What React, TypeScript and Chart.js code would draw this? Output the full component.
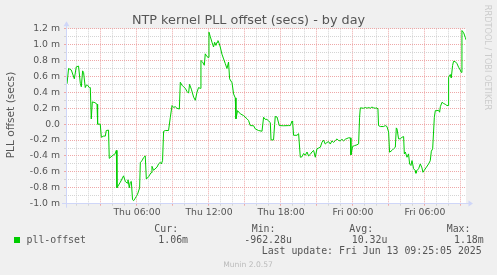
import React, { useEffect, useRef } from "react";
import { Chart, registerables } from "chart.js";

Chart.register(...registerables);

// time in hours since Thu 00:00, offset in milliseconds
const hours = [
  0.17, 0.3, 0.53, 0.78, 0.94, 1.13, 1.28, 1.36, 1.47, 1.55, 1.69, 1.78, 1.88, 2.03, 2.11, 2.19, 2.28, 2.5, 2.67, 2.72,
  2.94, 3.03, 3.22, 3.36, 3.44, 3.63, 3.69, 3.92, 4.19, 4.28, 4.33, 4.61, 4.88, 5.03, 5.17, 5.25, 5.36, 5.44, 5.53, 5.63,
  5.72, 5.86, 5.94, 6.05, 6.22, 6.28, 6.42, 6.55, 6.69, 6.78, 6.97, 7.17, 7.25, 7.38, 7.67, 7.8, 7.94, 8.03, 8.13, 8.22,
  8.36, 8.63, 8.78, 8.92, 9.05, 9.19, 9.33, 9.53, 9.61, 9.75, 9.88, 10.03, 10.17, 10.3, 10.38, 10.53, 10.72, 10.86, 11.0, 11.13,
  11.28, 11.33, 11.47, 11.61, 11.69, 11.83, 11.92, 12.0, 12.11, 12.25, 12.38, 12.47, 12.58, 12.67, 12.75, 12.86, 12.94, 13.08, 13.22, 13.36,
  13.5, 13.63, 13.72, 13.92, 14.05, 14.19, 14.25, 14.38, 14.61, 14.88, 15.17, 15.3, 15.44, 15.72, 15.86, 16.13, 16.42, 16.55, 16.69, 16.83,
  16.97, 17.11, 17.17, 17.38, 17.47, 17.52, 17.67, 17.86, 18.22, 18.63, 18.78, 18.92, 18.97, 19.05, 19.33, 19.47, 19.61, 19.75, 19.88, 20.03,
  20.17, 20.3, 20.44, 20.58, 20.72, 20.86, 21.0, 21.13, 21.28, 21.42, 21.55, 21.69, 21.83, 21.97, 22.11, 22.25, 22.38, 22.53, 22.67, 22.8,
  22.94, 23.08, 23.22, 23.36, 23.5, 23.63, 23.78, 23.83, 23.97, 24.13, 24.33, 24.47, 24.55, 24.61, 24.88, 25.03, 25.17, 25.3, 25.44, 25.58,
  25.72, 25.86, 26.0, 26.08, 26.13, 26.28, 26.55, 26.69, 26.83, 26.97, 27.05, 27.25, 27.38, 27.53, 27.61, 27.67, 27.8, 27.94, 28.08, 28.22,
  28.28, 28.36, 28.5, 28.63, 28.72, 28.83, 28.92, 29.05, 29.19, 29.25, 29.33, 29.47, 29.61, 29.75, 29.83, 29.94, 30.08, 30.3, 30.44, 30.53,
  30.64, 30.78, 30.86, 31.0, 31.13, 31.22, 31.28, 31.42, 31.55, 31.69, 31.83, 31.92, 31.97, 32.11, 32.19, 32.3, 32.38, 32.53, 32.67, 32.8,
  32.94, 33.03, 33.08, 33.22, 33.36, 33.42,
];

const offsetsMs = [
  0.507, 0.7, 0.68, 0.57, 0.72, 0.73, 0.51, 0.47, 0.67, 0.65, 0.46, 0.49, 0.49, 0.46, 0.46, 0.065, 0.28, 0.27, 0.25, 0.0,
  0.0, -0.165, -0.15, -0.15, -0.08, -0.075, -0.43, -0.4, -0.37, -0.33, -0.8, -0.73, -0.65, -0.72, -0.74, -0.7, -0.8, -0.73, -0.72, -0.95,
  -0.962, -0.93, -0.91, -0.88, -0.8, -0.48, -0.46, -0.42, -0.4, -0.69, -0.66, -0.61, -0.53, -0.58, -0.54, -0.5, -0.48, -0.5, -0.46, -0.09,
  -0.08, -0.08, 0.087, 0.234, 0.21, 0.22, 0.2, 0.19, 0.527, 0.49, 0.47, 0.45, 0.41, 0.39, 0.5, 0.44, 0.34, 0.3, 0.4, 0.46,
  0.45, 0.8, 0.78, 0.74, 0.884, 0.85, 0.84, 1.156, 1.1, 1.03, 0.97, 1.03, 0.99, 1.03, 1.05, 1.01, 0.97, 0.88, 0.82, 0.76,
  0.7, 0.78, 0.57, 0.52, 0.38, 0.33, 0.067, 0.17, 0.13, 0.108, 0.067, 0.045, -0.018, -0.02, -0.06, -0.08, -0.089, 0.087, 0.06, 0.06,
  0.04, 0.02, -0.198, -0.198, -0.005, 0.096, 0.09, -0.018, -0.02, -0.018, -0.018, 0.04, 0.03, -0.14, -0.14, -0.12, -0.416, -0.41, -0.37, -0.39,
  -0.35, -0.4, -0.38, -0.35, -0.33, -0.416, -0.31, -0.3, -0.29, -0.227, -0.2, -0.25, -0.23, -0.22, -0.25, -0.21, -0.23, -0.206, -0.185, -0.206,
  -0.21, -0.19, -0.21, -0.19, -0.18, -0.172, -0.172, -0.386, -0.28, -0.27, -0.26, -0.248, 0.087, 0.205, 0.2, 0.21, 0.2, 0.21, 0.2, 0.215,
  0.205, 0.2, 0.205, 0.19, -0.018, -0.03, -0.03, -0.018, -0.03, -0.1, -0.353, -0.33, -0.31, -0.29, -0.047, -0.06, -0.185, -0.185, -0.165, -0.156,
  -0.374, -0.35, -0.416, -0.374, -0.5, -0.52, -0.458, -0.56, -0.584, -0.617, -0.584, -0.56, -0.5, -0.55, -0.605, -0.58, -0.55, -0.5, -0.46, -0.34,
  -0.31, 0.087, 0.17, 0.17, 0.175, 0.15, 0.22, 0.275, 0.26, 0.25, 0.234, 0.234, 0.59, 0.624, 0.58, 0.737, 0.79, 0.785, 0.76, 0.716,
  0.68, 0.65, 1.177, 1.15, 1.09, 1.06,
];

const xRangeHours = [0.085, 33.418];
const gridHours = [1, 2, 3, 4, 5, 6, 7, 8, 9, 10, 11, 12, 13, 14, 15, 16, 17, 18, 19, 20, 21, 22, 23, 24, 25, 26, 27, 28, 29, 30, 31, 32, 33];
const labelHours = [6, 12, 18, 24, 30];
const labelTexts = ["Thu 06:00", "Thu 12:00", "Thu 18:00", "Fri 00:00", "Fri 06:00"];
const yRange = [-1.0, 1.2];
const yGridTenths = [-10, -9, -8, -7, -6, -5, -4, -3, -2, -1, 0, 1, 2, 3, 4, 5, 6, 7, 8, 9, 10, 11, 12];

const titleText = "NTP kernel PLL offset (secs) - by day";
const yTitle = "PLL offset (secs)";
const seriesName = "pll-offset";
const legendHeads = ["Cur:", "Min:", "Avg:", "Max:"];
const legendValues = ["1.06m", "-962.28u", "10.32u", "1.18m"];
const lastUpdate = "Last update: Fri Jun 13 09:25:05 2025";
const footer = "Munin 2.0.57";
const sideText = "RRDTOOL / TOBI OETIKER";

const GREEN = "#00cc00";
const RED_GRID = "rgb(238,168,168)";
const GREY_GRID = "rgb(212,212,212)";
const AXIS = "#CFD6F8";
const TEXT = "#555555";

function fmtY(tenths: number): string {
  if (tenths === 0) return "0.0";
  return (tenths / 10).toFixed(1) + " m";
}

export default function App() {
  const ref = useRef<HTMLCanvasElement | null>(null);

  useEffect(() => {
    const canvas = ref.current;
    if (!canvas) return;

    const decor = {
      id: "muninDecor",
      beforeDraw(chart: any) {
        const { ctx, chartArea } = chart;
        ctx.save();
        ctx.fillStyle = "#f0f0f0";
        ctx.fillRect(0, 0, chart.width, chart.height);
        ctx.fillStyle = "#ffffff";
        ctx.fillRect(chartArea.left, chartArea.top, chartArea.right - chartArea.left, chartArea.bottom - chartArea.top);
        ctx.restore();
      },
      afterDraw(chart: any) {
        const { ctx, chartArea } = chart;
        const L = chartArea.left;
        const R = chartArea.right;
        const T = chartArea.top;
        const B = chartArea.bottom;
        ctx.save();
        // axes
        ctx.strokeStyle = AXIS;
        ctx.fillStyle = AXIS;
        ctx.lineWidth = 1;
        const by = Math.floor(B) + 0.5;
        const lx = Math.floor(L) + 0.5;
        ctx.beginPath();
        ctx.moveTo(L - 4, by);
        ctx.lineTo(R + 3, by);
        ctx.moveTo(lx, B + 4);
        ctx.lineTo(lx, T - 3);
        ctx.stroke();
        ctx.beginPath();
        ctx.moveTo(R + 2.5, by - 3);
        ctx.lineTo(R + 7, by);
        ctx.lineTo(R + 2.5, by + 3);
        ctx.closePath();
        ctx.fill();
        ctx.beginPath();
        ctx.moveTo(lx - 3, T - 2.5);
        ctx.lineTo(lx, T - 7.5);
        ctx.lineTo(lx + 3, T - 2.5);
        ctx.closePath();
        ctx.fill();

        // title
        ctx.fillStyle = TEXT;
        ctx.font = '12.8px "DejaVu Sans"';
        ctx.textAlign = "center";
        ctx.textBaseline = "alphabetic";
        ctx.fillText(titleText, chart.width / 2, 24);

        // y title
        ctx.save();
        ctx.translate(14, 115);
        ctx.rotate(-Math.PI / 2);
        ctx.font = '10.6px "DejaVu Sans"';
        ctx.textAlign = "center";
        ctx.fillText(yTitle, 0, 0);
        ctx.restore();

        // side text
        ctx.save();
        ctx.translate(485, 57.5);
        ctx.rotate(Math.PI / 2);
        ctx.font = '8.2px "DejaVu Sans"';
        ctx.fillStyle = "#cccccc";
        ctx.textAlign = "center";
        ctx.fillText(sideText, 0, 0);
        ctx.restore();

        // legend
        ctx.fillStyle = GREEN;
        ctx.fillRect(14, 237, 6, 6);
        ctx.fillStyle = TEXT;
        ctx.font = '9.9px "DejaVu Sans Mono"';
        ctx.textAlign = "left";
        ctx.fillText(seriesName, 26.5, 243);
        const headX = [154.3, 251.7, 349.3, 446.7];
        const valX = [158.3, 244.3, 351.7, 454];
        legendHeads.forEach((h, i) => ctx.fillText(h, headX[i], 232));
        legendValues.forEach((v, i) => ctx.fillText(v, valX[i], 243));
        ctx.fillText(lastUpdate, 261.7, 254);

        ctx.fillStyle = "#bbbbbb";
        ctx.font = '7.6px "DejaVu Sans"';
        ctx.textAlign = "center";
        ctx.fillText(footer, 248, 267.2);
        ctx.restore();
      },
    };

    const chart = new Chart(canvas, {
      type: "line",
      data: {
        datasets: [
          {
            label: seriesName,
            data: hours.map((h, i) => ({ x: h, y: offsetsMs[i] })),
            borderColor: GREEN,
            backgroundColor: GREEN,
            borderWidth: 1,
            pointRadius: 0,
            tension: 0,
            fill: false,
          },
        ],
      },
      options: {
        animation: false,
        responsive: false,
        devicePixelRatio: 1,
        layout: { padding: { top: 28.7, left: 0, right: 31, bottom: 0 } },
        plugins: { legend: { display: false }, title: { display: false }, tooltip: { enabled: false } },
        scales: {
          x: {
            type: "linear",
            min: xRangeHours[0],
            max: xRangeHours[1],
            afterFit(scale: any) {
              scale.height = 275 - 203.7;
            },
            afterBuildTicks(scale: any) {
              scale.ticks = gridHours.map((h) => ({ value: h }));
            },
            ticks: {
              autoSkip: false,
              maxRotation: 0,
              minRotation: 0,
              padding: 1.5,
              color: TEXT,
              font: { family: "DejaVu Sans", size: 9.3 },
              callback(value: any) {
                const idx = labelHours.indexOf(Math.round(Number(value)));
                return idx >= 0 ? labelTexts[idx] : "";
              },
            },
            grid: {
              color: (c: any) => (Math.round(c.tick?.value) % 3 === 0 ? RED_GRID : GREY_GRID),
              tickColor: (c: any) => (Math.round(c.tick?.value) % 3 === 0 ? RED_GRID : GREY_GRID),
              lineWidth: 1,
              tickLength: 2,
              drawTicks: true,
            },
            border: { display: false, dash: [1, 1] },
          },
          y: {
            type: "linear",
            min: yRange[0],
            max: yRange[1],
            afterFit(scale: any) {
              scale.width = 66;
            },
            afterBuildTicks(scale: any) {
              scale.ticks = yGridTenths.map((t) => ({ value: t / 10 }));
            },
            ticks: {
              autoSkip: false,
              padding: 4,
              color: TEXT,
              font: { family: "DejaVu Sans", size: 9.3 },
              callback(value: any) {
                const t = Math.round(Number(value) * 10);
                return t % 2 === 0 ? fmtY(t) : "";
              },
            },
            grid: {
              color: (c: any) => (Math.round((c.tick?.value ?? 0) * 10) % 2 === 0 ? RED_GRID : GREY_GRID),
              tickColor: (c: any) => (Math.round((c.tick?.value ?? 0) * 10) % 2 === 0 ? RED_GRID : GREY_GRID),
              lineWidth: 1,
              tickLength: 2,
              drawTicks: true,
            },
            border: { display: false, dash: [1, 1] },
          },
        },
      },
      plugins: [decor],
    });

    return () => chart.destroy();
  }, []);

  return (
    <div style={{ position: "fixed", left: 0, top: 0, width: 497, height: 275, background: "#f0f0f0" }}>
      <canvas ref={ref} width={497} height={275} style={{ display: "block", width: 497, height: 275 }} />
    </div>
  );
}
